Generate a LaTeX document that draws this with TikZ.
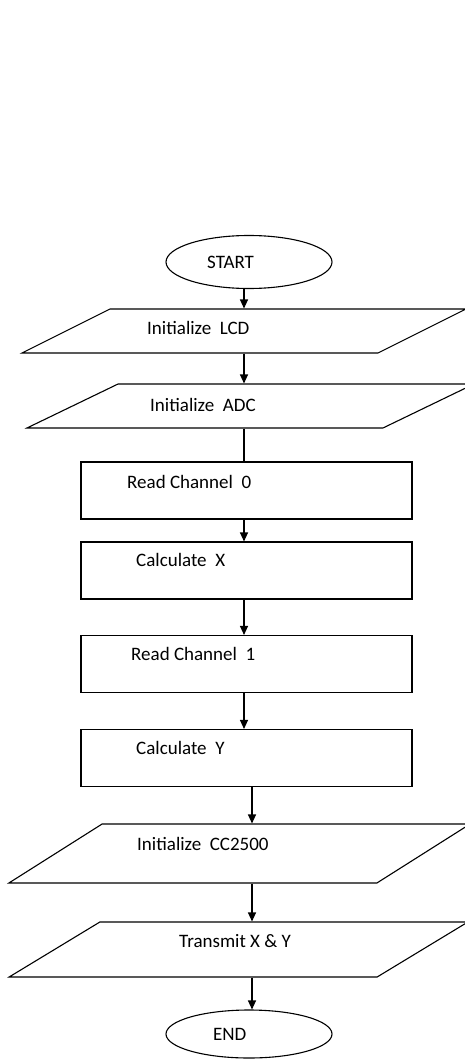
\documentclass[tikz,border=0pt]{standalone}
\usepackage{fontspec}
\setmainfont{Carlito}
\usetikzlibrary{shapes.geometric, arrows.meta, positioning}
\tikzset{
    term/.style={draw=black, ellipse, line width=1.1pt, minimum width=166pt, inner sep=0pt},
    io/.style={draw=black, rectangle, line width=1.1pt, inner sep=0pt, transform shape},
    proc/.style={draw=black, rectangle, line width=1.1pt, minimum width=331pt, minimum height=57pt, inner sep=0pt},
    txt/.style={font=\fontsize{19}{22}\selectfont, anchor=west, inner sep=0pt},
    flow/.style={-{Triangle[length=9pt, width=8pt]}, line width=1.1pt}
}

\begin{document}
\begin{tikzpicture}[x=1pt, y=-1pt]
    \useasboundingbox (0,0) rectangle (465,1059);
    \clip (0,0) rectangle (465,1059);
    \coordinate (sp) at (244,0);
    \coordinate (sq) at (252,0);
    % Inicio
    \node[term, minimum height=53pt] (start) at (249,262) {};
    \node[txt] (tstart) at (207,262) {START};
    % Entradas
    \node[io, xslant=2, minimum width=356pt, minimum height=44pt] (lcd) at (244,331) {};
    \node[txt] (tlcd) at (147,328) {Initialize~~LCD};
    \node[io, xslant=2.07, minimum width=356pt, minimum height=44pt] (adc) at (250.5,406) {};
    \node[txt] (tadc) at (150,405) {Initialize~~ADC};
    % Processos
    \node[proc] (rc0) at (246.5,490.5) {};
    \node[txt] (trc0) at (127,482) {Read Channel~~0};
    \node[proc] (cx) at (246.5,570.5) {};
    \node[txt] (tcx) at (136,560) {Calculate~~X};
    \node[proc] (rc1) at (246.5,664) {};
    \node[txt] (trc1) at (131,654) {Read Channel~~1};
    \node[proc] (cy) at (246.5,758) {};
    \node[txt] (tcy) at (136,748) {Calculate~~Y};
    % Saidas
    \node[io, xslant=1.58, minimum width=368pt, minimum height=59pt] (cc) at (239.5,853.5) {};
    \node[txt] (tcc) at (137,844) {Initialize~~CC2500};
    \node[io, xslant=1.65, minimum width=368pt, minimum height=55pt] (tx) at (238.5,949.5) {};
    \node[txt] (ttx) at (179,941) {Transmit X \& Y};
    % Fim
    \node[term, minimum height=48pt] (end) at (249,1034) {};
    \node[txt] (tend) at (213,1034) {END};
    % Ligacoes
    \draw[flow] (start.south -| sp) -- (lcd.north -| sp);
    \draw[flow] (lcd.south -| sp) -- (adc.north -| sp);
    \draw[line width=1.1pt] (adc.south -| sp) -- (rc0.north -| sp);
    \draw[flow] (rc0.south -| sp) -- (cx.north -| sp);
    \draw[flow] (cx.south -| sp) -- (rc1.north -| sp);
    \draw[flow] (rc1.south -| sp) -- (cy.north -| sp);
    \draw[flow] (cy.south -| sq) -- (cc.north -| sq);
    \draw[flow] (cc.south -| sq) -- (tx.north -| sq);
    \draw[flow] (tx.south -| sq) -- (end.north -| sq);
\end{tikzpicture}
\end{document}
